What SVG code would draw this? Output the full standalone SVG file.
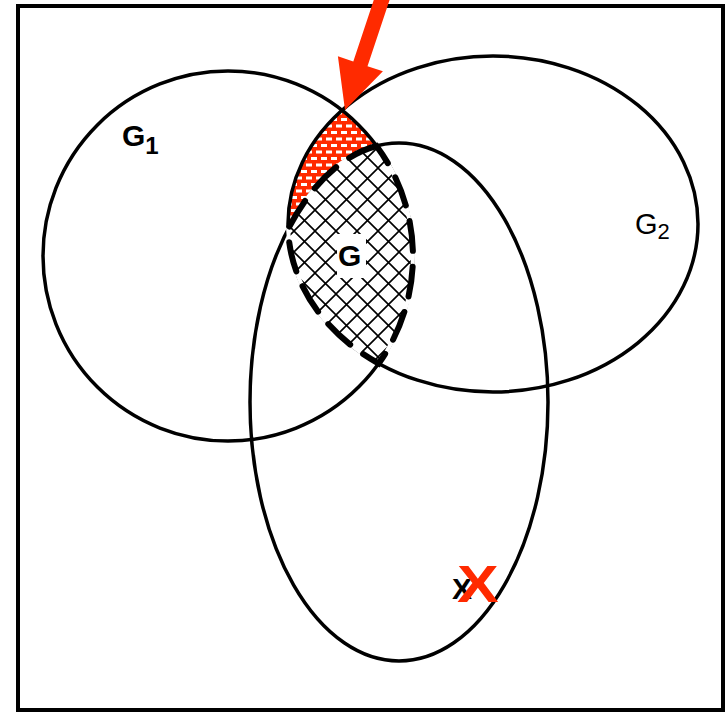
<svg xmlns="http://www.w3.org/2000/svg" width="725" height="712" viewBox="0 0 725 712">
<style>
.ln{fill:none;stroke:#000;stroke-width:3.5}
.lbl{font-family:"Liberation Sans",Arial,sans-serif;fill:#000}
.red{fill:#ff2a00}
</style>
<defs>
<pattern id="dots" patternUnits="userSpaceOnUse" width="10" height="13">
<rect width="10" height="13" fill="#ff2a00"/>
<rect x="1" y="1" width="6" height="3" fill="#fff"/>
<rect x="6" y="7.5" width="6" height="3" fill="#fff"/>
<rect x="-4" y="7.5" width="6" height="3" fill="#fff"/>
</pattern>
<pattern id="hatch" patternUnits="userSpaceOnUse" width="21" height="21">
<rect width="21" height="21" fill="#fff"/>
<path d="M0,0L21,21M21,0L0,21" stroke="#000" stroke-width="1.6"/>
</pattern>
</defs>
<rect width="725" height="712" fill="#fff"/>
<g id="regionRed">
<path d="M342,110 A185,185 0 0 1 376.5,146 A149,259 0 0 0 288.1,229 A205,168 0 0 1 342,110 Z" fill="url(#dots)"/>
</g>
<g id="G1">
<circle class="ln" cx="228" cy="256" r="185"/>
<text class="lbl" x="122" y="146" font-size="30" font-weight="bold">G<tspan y="154" font-size="24" font-weight="bold">1</tspan></text>
</g>
<g id="G2">
<ellipse class="ln" cx="493" cy="224" rx="205" ry="168"/>
<text class="lbl" x="635" y="234" font-size="29">G<tspan y="239" font-size="22">2</tspan></text>
</g>
<g id="X">
<ellipse class="ln" cx="399" cy="402" rx="149" ry="259"/>
<text class="lbl" x="452" y="599" font-size="30" font-weight="bold">X</text>
<text class="lbl red" transform="translate(457,602) scale(1.2,1)" font-size="52" font-weight="bold">X</text>
</g>
<g id="G">
<path d="M376.5,146 A149,259 0 0 0 288.1,229 A205,168 0 0 0 378.7,363.5 A185,185 0 0 0 376.5,146 Z" fill="url(#hatch)" stroke="#fff" stroke-width="4"/>
<path d="M376.5,146 A149,259 0 0 0 288.1,229 A205,168 0 0 0 378.7,363.5 A185,185 0 0 0 376.5,146 Z" fill="none" stroke="#000" stroke-width="6" stroke-dasharray="30 16" stroke-linecap="round"/>
<rect x="337" y="234" width="29" height="44" fill="#fff"/>
<text class="lbl" x="338" y="266" font-size="30" font-weight="bold">G</text>
</g>
<rect x="18" y="6" width="705" height="704" fill="none" stroke="#000" stroke-width="4"/>
<g id="connectors">
<polygon class="red" points="377.9,-12.4 392.1,-7.6 367.5,66.2 382.9,71.3 345,110 337.9,56.3 353.3,61.4"/>
</g>
</svg>
